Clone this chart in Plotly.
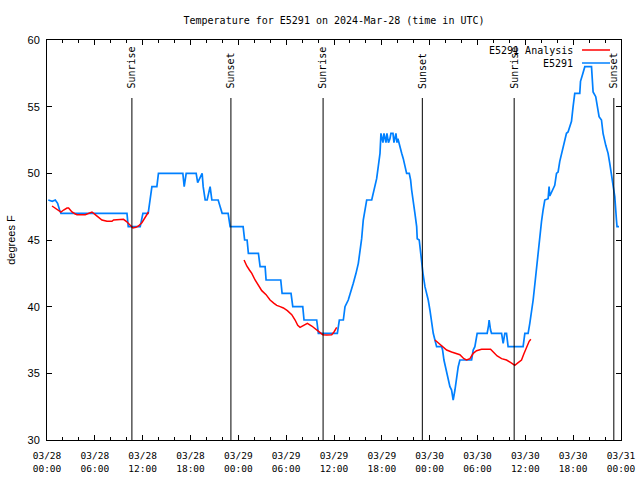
import pandas as pd
import plotly.graph_objects as go

START = pd.Timestamp("2024-03-28 00:00")

# Observed temperature (E5291): hours since 2024-03-28 00:00 UTC, degrees F
obs_hours = [0.16, 0.66, 1.04, 1.33, 1.58, 1.75, 10.03, 10.19, 11.69, 12.03, 12.69, 12.94, 13.16, 13.78,
             13.98, 17.04, 17.21, 17.46, 18.71, 18.9, 19.08, 19.46, 19.59, 19.84, 20.09, 20.46, 20.68,
             21.47, 21.72, 21.97, 22.72, 22.97, 24.6, 24.79, 25.1, 25.26, 26.52, 26.73, 27.36, 27.48,
             29.32, 29.49, 30.61, 30.83, 32.08, 32.24, 33.83, 34.04, 36.42, 36.67, 37.17, 37.38, 37.79,
             38.01, 38.42, 38.76, 39.05, 39.22, 39.47, 39.67, 39.89, 40.1, 40.73, 40.93, 41.14, 41.35,
             41.55, 41.77, 41.89, 42.14, 42.27, 42.52, 42.64, 42.83, 43.02, 43.14, 43.4, 43.52, 43.77,
             43.9, 44.02, 44.27, 44.49, 44.69, 44.9, 45.11, 45.44, 45.61, 45.74, 45.94, 46.15, 46.37,
             46.44, 46.69, 46.84, 46.97, 47.16, 47.41, 47.66, 47.82, 48.03, 48.25, 48.45, 48.66, 48.87,
             49.5, 49.62, 49.79, 50.04, 50.33, 50.54, 50.75, 50.95, 51.17, 51.38, 51.58, 51.79, 53.26,
             53.46, 53.67, 53.96, 55.21, 55.39, 55.46, 55.64, 55.76, 57.02, 57.22, 57.43, 57.64, 57.84,
             59.72, 59.94, 60.35, 60.56, 60.78, 60.98, 61.25, 61.5, 61.73, 62.03, 62.23, 62.44, 62.86,
             62.98, 63.07, 63.28, 63.69, 63.91, 64.11, 64.32, 64.54, 64.74, 64.95, 65.16, 65.36, 65.58,
             65.79, 65.99, 66.2, 66.83, 66.92, 67.17, 67.46, 68.3, 68.5, 68.83, 69.0, 69.25, 69.55,
             69.75, 70.09, 70.38, 70.59, 70.8, 71.0, 71.22, 71.43, 71.5, 71.75]
obs_temp = [48, 47.9, 48, 47.75, 47.25, 47, 47, 46, 46, 47, 47, 48, 49, 49,
            50, 50, 49, 50, 50, 49.3, 49.5, 50, 49, 48, 48, 49, 48,
            48, 47.5, 47, 47, 46, 46, 45, 45, 44, 44, 43, 43, 42,
            42, 41, 41, 40, 40, 39, 39, 38, 38, 39, 39, 40, 40.5,
            40.9, 41.75, 42.5, 43.25, 44, 45.1, 46.5, 47.25, 48, 48, 48.6, 49.1, 49.6,
            50.5, 51.5, 53, 52.3, 53, 52.3, 53, 52.3, 52.6, 53, 53, 52.3, 53,
            52.3, 52.6, 51.9, 51.5, 51.1, 50.5, 50, 50, 49.5, 48.75, 48, 47, 46,
            45.1, 45, 44, 43.2, 42.5, 41.5, 41, 40.5, 39.75, 38.75, 38, 37.5, 37,
            37, 36.75, 36, 35.25, 34.6, 34, 33.75, 33, 33.75, 34.75, 35.5, 36, 36,
            36.75, 37, 38, 38, 38.6, 39, 38.25, 38, 38, 37.25, 38, 38, 37,
            37, 38, 38, 38.75, 39.5, 40.5, 42, 43.5, 45, 46.4, 47.25, 48, 48.1,
            49, 48.3, 48.6, 49.1, 50, 50.1, 50.9, 51.4, 52, 52.5, 53, 53.1, 53.5,
            53.9, 55, 56, 56, 56.9, 57.4, 58, 58, 56.1, 55.75, 55.1, 54.25, 54,
            53, 52.1, 51.5, 50.75, 50, 49.25, 48.25, 46.5, 46, 46]

# Analysis (E5291 Analysis): three separate runs
ana1_hours = [0.63, 1.04, 1.45, 1.75, 2.08, 2.51, 2.71, 3.13, 3.55, 3.76, 4.8, 5.01, 5.64, 6.05, 6.47,
              6.89, 7.52, 8.15, 8.35, 9.19, 9.6, 9.94, 10.23, 10.53, 10.78, 11.15, 11.48, 11.9, 12.19,
              12.53, 12.73]
ana1_temp = [47.55, 47.4, 47.25, 47.1, 47.25, 47.4, 47.4, 47.1, 46.95, 46.9, 46.9, 46.95, 47.1, 46.9, 46.7,
             46.5, 46.4, 46.4, 46.5, 46.5, 46.55, 46.4, 46.2, 46.0, 45.9, 45.95, 46.05, 46.3, 46.6,
             46.95, 47.1]
ana2_hours = [24.72, 25.06, 25.39, 25.69, 26.1, 26.52, 26.94, 27.48, 27.98, 28.48, 28.82, 29.24, 29.65,
              30.15, 30.7, 31.12, 31.45, 31.74, 32.16, 32.66, 33.21, 33.75, 34.16, 34.59, 35.09, 35.71,
              36.0, 36.34]
ana2_temp = [43.5, 43.05, 42.75, 42.5, 42.0, 41.55, 41.2, 40.9, 40.5, 40.25, 40.1, 40.0, 39.9,
             39.7, 39.4, 39.0, 38.6, 38.45, 38.6, 38.75, 38.55, 38.3, 38.05, 37.9, 37.87, 37.9,
             38.1, 38.45]
ana3_hours = [48.66, 49.07, 49.5, 50.13, 50.75, 51.38, 51.79, 52.29, 52.63, 53.05, 53.46, 53.88, 54.51,
              55.64, 55.97, 56.47, 57.02, 57.64, 58.18, 58.68, 59.1, 59.52, 59.81, 60.15, 60.48, 60.69]
ana3_temp = [37.5, 37.3, 37.05, 36.75, 36.6, 36.5, 36.4, 36.1, 36.0, 36.1, 36.5, 36.7, 36.8,
             36.8, 36.6, 36.3, 36.1, 36.0, 35.8, 35.6, 35.8, 36.0, 36.45, 37.0, 37.4, 37.55]

# Sun events (hours since start)
sun_hours = [10.65, 23.07, 34.63, 47.08, 58.6, 71.1]
sun_labels = ["Sunrise", "Sunset", "Sunrise", "Sunset", "Sunrise", "Sunset"]

tick_hours = list(range(0, 73, 6))

MONO = "DejaVu Sans Mono"
SANS = "Liberation Sans"
BLUE = "#0080ff"
RED = "#ff0000"


def to_time(hours):
    return [None if h is None else START + pd.Timedelta(hours=h) for h in hours]


ana_hours = ana1_hours + [None] + ana2_hours + [None] + ana3_hours
ana_temp = ana1_temp + [None] + ana2_temp + [None] + ana3_temp

fig = go.Figure()
fig.add_trace(go.Scatter(x=to_time(obs_hours), y=obs_temp, mode="lines", name="E5291",
                         line=dict(color=BLUE, width=1.7)))
fig.add_trace(go.Scatter(x=to_time(ana_hours), y=ana_temp, mode="lines", name="E5291 Analysis",
                         line=dict(color=RED, width=1.5), connectgaps=False))

y_line_top = 55.65
for h, lab in zip(sun_hours, sun_labels):
    t = START + pd.Timedelta(hours=h)
    fig.add_shape(type="line", xref="x", yref="y", x0=t, x1=t, y0=30, y1=y_line_top,
                  line=dict(color="black", width=1))
    fig.add_annotation(x=t, y=56.2, xref="x", yref="y", text=lab, textangle=-90,
                       showarrow=False, xanchor="center", yanchor="bottom",
                       font=dict(family=MONO, size=10, color="black"))

# gnuplot-style legend: text on the left, sample on the right
legend_items = [("E5291 Analysis", RED), ("E5291", BLUE)]
for i, (name, col) in enumerate(legend_items):
    ypx = 50 + 13 * i
    yp = 1 - (ypx - 40) / 400
    fig.add_annotation(x=(575 - 46.7) / 574.3, y=yp, xref="paper", yref="paper", text=name,
                       showarrow=False, xanchor="right", yanchor="middle",
                       font=dict(family=MONO, size=10, color="black"))
    fig.add_shape(type="line", xref="paper", yref="paper",
                  x0=(582 - 46.7) / 574.3, x1=(610 - 46.7) / 574.3, y0=yp, y1=yp,
                  line=dict(color=col, width=1.5))

tick_times = to_time(tick_hours)
tick_text = [f"{t:%m/%d}<br>{t:%H:%M}" for t in tick_times]

fig.update_layout(
    width=640, height=480,
    margin=dict(l=47, r=19, t=40, b=40, autoexpand=False),
    paper_bgcolor="white", plot_bgcolor="white",
    showlegend=False,
    title=dict(text="Temperature for E5291 on 2024-Mar-28 (time in UTC)",
               x=0.5, xref="paper", xanchor="center", y=1 - 20 / 480, yref="container",
               yanchor="middle", font=dict(family=MONO, size=10, color="black")),
    xaxis=dict(range=[tick_times[0], tick_times[-1]], tickmode="array", tickvals=tick_times,
               ticktext=tick_text, ticks="inside", ticklen=5, tickcolor="black",
               showline=True, linecolor="black", linewidth=1, mirror="allticks",
               showgrid=False, zeroline=False, ticklabelstandoff=7,
               tickfont=dict(family=MONO, size=9.5, color="black"),
               minor=dict(tickmode="linear", tick0=START, dtick=2 * 3600 * 1000,
                          ticks="inside", ticklen=3, tickcolor="black", showgrid=False)),
    yaxis=dict(range=[30, 60], tickmode="linear", tick0=30, dtick=5, ticks="inside",
               ticklen=5, tickcolor="black", showline=True, linecolor="black", linewidth=1,
               mirror="allticks", showgrid=False, zeroline=False, ticklabelstandoff=4,
               tickfont=dict(family=SANS, size=11, color="black"),
               title=dict(text="degrees F", standoff=9,
                          font=dict(family=SANS, size=11, color="black"))),
)

fig.write_html("out.html", config={"displayModeBar": False},
               post_script="document.body.style.margin='0';document.body.style.overflow='hidden';")
